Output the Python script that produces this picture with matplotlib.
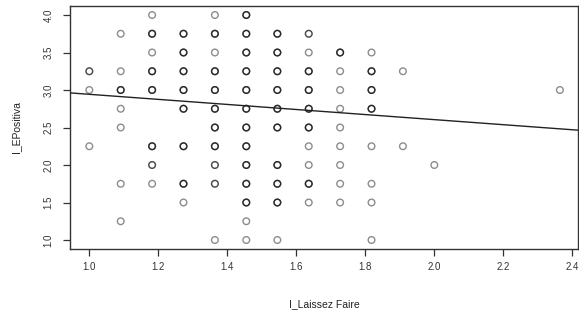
import matplotlib
matplotlib.use("Agg")
import matplotlib.pyplot as plt
import numpy as np

# I_Laissez Faire (x), I_EPositiva (y), and how many respondents share each point
laissez = [
    1.182, 1.364, 1.455,
    1.091, 1.182, 1.273, 1.364, 1.455, 1.545, 1.636,
    1.182, 1.273, 1.364, 1.455, 1.545, 1.636, 1.727, 1.818,
    1.0, 1.091, 1.182, 1.273, 1.364, 1.455, 1.545, 1.636, 1.727, 1.818, 1.909,
    1.0, 1.091, 1.182, 1.273, 1.364, 1.455, 1.545, 1.636, 1.727, 1.818, 2.364,
    1.091, 1.273, 1.364, 1.455, 1.545, 1.636, 1.727, 1.818,
    1.091, 1.364, 1.455, 1.545, 1.636, 1.727,
    1.0, 1.182, 1.273, 1.364, 1.455, 1.636, 1.727, 1.818, 1.909,
    1.182, 1.364, 1.455, 1.545, 1.636, 1.727, 2.0,
    1.091, 1.182, 1.273, 1.364, 1.455, 1.545, 1.636, 1.727, 1.818,
    1.273, 1.455, 1.545, 1.636, 1.727, 1.818,
    1.091, 1.455,
    1.364, 1.455, 1.545, 1.818,
]
epositiva = [
    4.0, 4.0, 4.0,
    3.75, 3.75, 3.75, 3.75, 3.75, 3.75, 3.75,
    3.5, 3.5, 3.5, 3.5, 3.5, 3.5, 3.5, 3.5,
    3.25, 3.25, 3.25, 3.25, 3.25, 3.25, 3.25, 3.25, 3.25, 3.25, 3.25,
    3.0, 3.0, 3.0, 3.0, 3.0, 3.0, 3.0, 3.0, 3.0, 3.0, 3.0,
    2.75, 2.75, 2.75, 2.75, 2.75, 2.75, 2.75, 2.75,
    2.5, 2.5, 2.5, 2.5, 2.5, 2.5,
    2.25, 2.25, 2.25, 2.25, 2.25, 2.25, 2.25, 2.25, 2.25,
    2.0, 2.0, 2.0, 2.0, 2.0, 2.0, 2.0,
    1.75, 1.75, 1.75, 1.75, 1.75, 1.75, 1.75, 1.75, 1.75,
    1.5, 1.5, 1.5, 1.5, 1.5, 1.5,
    1.25, 1.25,
    1.0, 1.0, 1.0, 1.0,
]
counts = [
    1, 1, 3,
    1, 3, 3, 3, 3, 3, 2,
    1, 3, 1, 3, 3, 1, 3, 1,
    2, 1, 3, 3, 3, 3, 3, 3, 1, 3, 1,
    1, 3, 3, 3, 3, 3, 3, 3, 1, 3, 1,
    1, 3, 3, 3, 3, 3, 1, 3,
    1, 3, 3, 3, 3, 1,
    1, 3, 3, 3, 3, 1, 1, 1, 1,
    2, 2, 3, 3, 1, 1, 1,
    1, 1, 3, 2, 3, 3, 3, 1, 1,
    1, 3, 3, 1, 1, 1,
    1, 1,
    1, 1, 1, 1,
]

# fitted line
intercept = 3.28
slope = -0.3375

x_ticks = [1.0, 1.2, 1.4, 1.6, 1.8, 2.0, 2.2, 2.4]
y_ticks = [1.0, 1.5, 2.0, 2.5, 3.0, 3.5, 4.0]

plt.rcParams["font.family"] = ["Liberation Sans", "DejaVu Sans"]

fig = plt.figure(figsize=(5.79, 3.22), dpi=100)
ax = fig.add_axes([70 / 579, 73 / 322, 508 / 579, 243 / 322])

# overplotted points: draw each one as often as it occurs, so stacks look darker
xs = np.repeat(laissez, counts)
ys = np.repeat(epositiva, counts)
ax.scatter(xs, ys, s=23, facecolors="none", edgecolors="black",
           linewidths=1.0, alpha=0.45, zorder=2)

ax.axline((0, intercept), slope=slope, color="#222222", lw=1.0, zorder=3)

ax.set_xlim(0.944, 2.4165)
ax.set_ylim(0.88, 4.12)
ax.set_xticks(x_ticks)
ax.set_xticklabels([f"{t:.1f}" for t in x_ticks])
ax.set_yticks(y_ticks)
ax.set_yticklabels([f"{t:.1f}" for t in y_ticks], rotation=90, va="center")

ax.tick_params(axis="both", direction="out", length=5, width=0.9,
               colors="#333333", labelsize=7)
ax.tick_params(axis="x", pad=4)
ax.tick_params(axis="y", pad=7)
for sp in ax.spines.values():
    sp.set_color("#333333")
    sp.set_linewidth(1.0)

ax.set_xlabel("I_Laissez Faire", fontsize=7.5, color="#222222", labelpad=20)
ax.set_ylabel("I_EPositiva", fontsize=7.5, color="#222222", labelpad=16)

fig.savefig("out.png", dpi=100)
